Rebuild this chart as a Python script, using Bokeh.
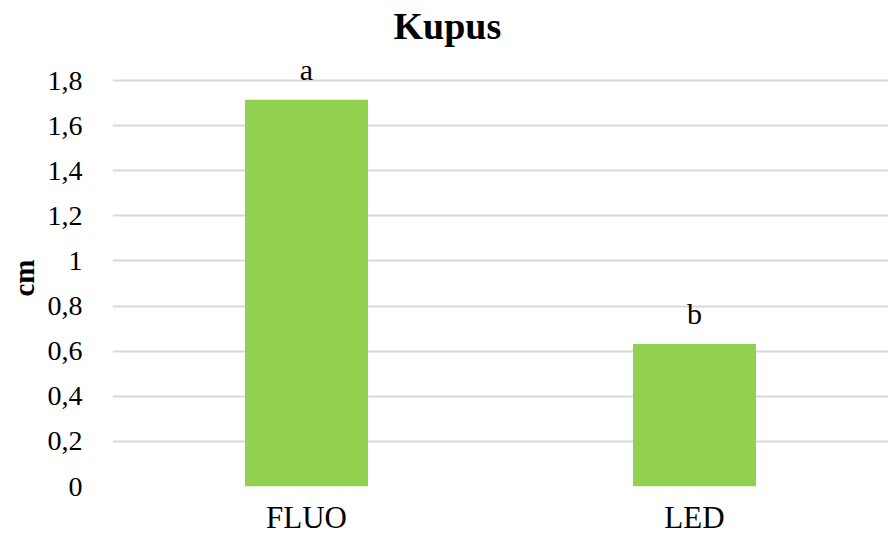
from bokeh.plotting import figure
from bokeh.models import ColumnDataSource, Range1d, FactorRange, Label, FixedTicker, CustomJSTickFormatter, Title
from bokeh.core.properties import value
from bokeh.embed import file_html
from bokeh.resources import INLINE

categories = ["FLUO", "LED"]
values = [1.715, 0.632]
letters = ["a", "b"]
y_ticks = [0, 0.2, 0.4, 0.6, 0.8, 1.0, 1.2, 1.4, 1.6, 1.8]
title_text = "Kupus"
y_label = "cm"

FONT = "Liberation Serif"

W, H = 888, 537
BOTTOM = 51
y_end = y_ticks[-1] * 485.5 / 405.5

src = ColumnDataSource(dict(cat=categories, val=values, lab=letters))

p = figure(x_range=FactorRange(*categories, range_padding=0), y_range=Range1d(0, y_end),
           width=W, height=H, output_backend="svg", toolbar_location=None,
           min_border_left=112, min_border_right=0, min_border_top=0, min_border_bottom=BOTTOM)
p.title.visible = False
p.outline_line_color = None
p.background_fill_color = "white"
p.border_fill_color = "white"

p.vbar(x="cat", top="val", width=0.317, source=src, color="#92D050", line_color=None)

p.text(x="cat", y="val", text="lab", source=src, text_align="center", text_baseline="middle",
       y_offset=-30, text_font=value(FONT), text_font_size="30px", text_color="black")

p.xgrid.grid_line_color = None
p.ygrid.grid_line_color = "#d9d9d9"
p.ygrid.grid_line_width = 2
p.yaxis.ticker = FixedTicker(ticks=y_ticks)
p.yaxis.formatter = CustomJSTickFormatter(code="return (Math.round(tick*10)/10).toString().replace('.', ',');")

for ax in (p.xaxis, p.yaxis):
    ax.axis_line_color = None
    ax.major_tick_line_color = None
    ax.minor_tick_line_color = None
    ax.major_label_text_font = FONT
    ax.major_label_text_color = "black"

p.yaxis.major_label_text_font_size = "28px"
p.xaxis.major_label_text_font_size = "31px"
p.yaxis.major_label_standoff = 24
p.xaxis.major_label_standoff = 7

p.add_layout(Title(text=y_label, align="left", offset=190, text_font=FONT, text_font_style="bold",
                   text_font_size="29px", text_color="black", standoff=10), "left")

p.add_layout(Label(x=0.863, y=2.044, text=title_text, text_align="center", text_baseline="middle",
                   text_font=FONT, text_font_style="bold", text_font_size="38px", text_color="black"))

open("out.html", "w").write(file_html(p, INLINE))
